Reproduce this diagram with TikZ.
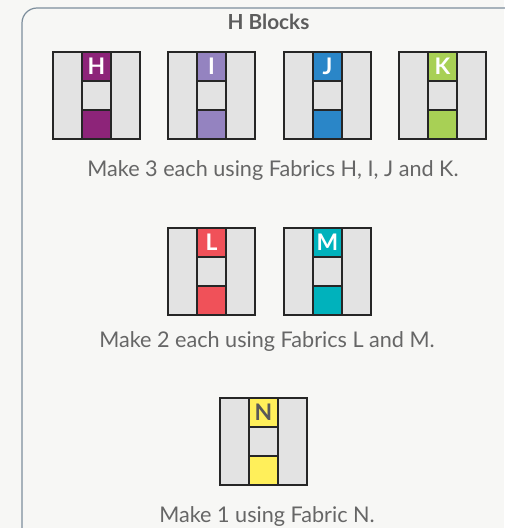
\documentclass[tikz,border=0pt]{standalone}
\usepackage{fontspec}
\setmainfont{Lato}
\usepackage{tikz}
\usetikzlibrary{positioning}
\definecolor{paper}{HTML}{F7F7F5}
\definecolor{framec}{HTML}{7D8E9C}
\definecolor{ink}{HTML}{666666}
\definecolor{patch}{HTML}{E3E3E3}
\definecolor{fabH}{HTML}{8D2479}
\definecolor{fabI}{HTML}{9483C0}
\definecolor{fabJ}{HTML}{2A86C8}
\definecolor{fabK}{HTML}{A8D055}
\definecolor{fabL}{HTML}{F05159}
\definecolor{fabM}{HTML}{00B2BC}
\definecolor{fabN}{HTML}{FFEF5A}

\begin{document}
\begin{tikzpicture}[x=0.2mm,y=-0.2mm,
  strip/.style={draw=black!85,fill=patch,line width=0.8pt,outer sep=0pt,
     inner sep=0pt,minimum width=5.8mm,minimum height=17.4mm},
  cell/.style={strip,minimum height=5.8mm,font=\bfseries\fontsize{13}{14}\selectfont},
  caption/.style={text=ink,font=\fontsize{12.3}{14}\selectfont,inner sep=0pt},
  heading/.style={text=ink!90!black,font=\bfseries\fontsize{11.8}{13}\selectfont,inner sep=0pt}]
\useasboundingbox[fill=paper] (0,0) rectangle (504,528);
\draw[framec,line width=0.7pt,rounded corners=3mm] (22,8) rectangle (530,545);
\node[heading] (title) at (268.5,22) {H Blocks};
% one H block per fabric
\foreach \f/\x/\y/\c/\t in {H/53/52/fabH/white,I/168/52/fabI/white,
    J/284/52/fabJ/white,K/399/52/fabK/white,L/168/228/fabL/white,
    M/284/228/fabM/white,N/220/398/fabN/black!65}{
  \node[strip,anchor=north west] (\f-l) at (\x,\y) {};
  \node[cell,anchor=north west,fill=\c,text=\t] (\f-t) at (\f-l.north east) {\f};
  \node[cell,below=0pt of \f-t] (\f-m) {};
  \node[cell,below=0pt of \f-m,fill=\c] (\f-b) {};
  \node[strip,anchor=north west] (\f-r) at (\f-t.north east) {};
}
\node[caption,anchor=base] (cap3) at (273,177) {Make 3 each using Fabrics H, I, J and K.};
\node[caption,anchor=base] (cap2) at (267,347) {Make 2 each using Fabrics L and M.};
\node[caption,anchor=base] (cap1) at (267,522) {Make 1 using Fabric N.};
\end{tikzpicture}
\end{document}
